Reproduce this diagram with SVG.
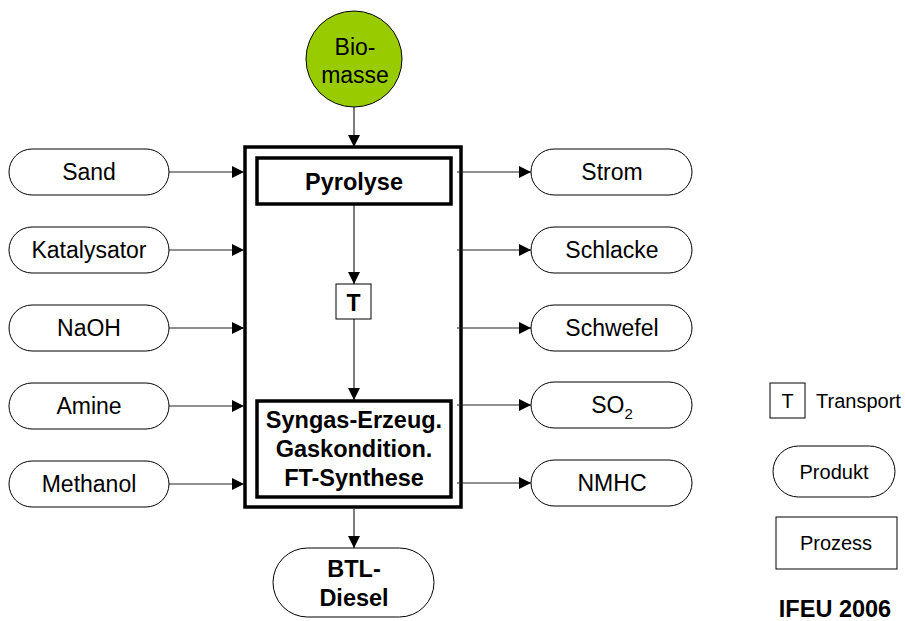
<svg xmlns="http://www.w3.org/2000/svg" width="905" height="621" viewBox="0 0 905 621">
<defs>
<marker id="arr" markerUnits="userSpaceOnUse" markerWidth="12" markerHeight="12" refX="12" refY="6" orient="auto">
<path d="M0,0 L12,6 L0,12 z" fill="#000"/>
</marker>
</defs>
<style>
text{font-family:"Liberation Sans",Arial,sans-serif;fill:#000;text-anchor:middle}
.r{font-size:23px}
.b{font-size:23.5px;font-weight:bold}
.l{font-size:20px}
.pill{fill:#fff;stroke:#000;stroke-width:1}
.proc{fill:#fff;stroke:#000;stroke-width:3.5}
.thin{fill:#fff;stroke:#000;stroke-width:1}
.con line{stroke:#222;stroke-width:1.2;marker-end:url(#arr)}
</style>
<rect width="905" height="621" fill="#fff"/>

<g id="outer"><rect class="proc" x="245" y="147" width="216" height="360"/></g>

<g class="con" id="connectors">
<line x1="354" y1="107" x2="354" y2="147"/>
<line x1="354" y1="204" x2="354" y2="284"/>
<line x1="354" y1="319" x2="354" y2="400"/>
<line x1="354" y1="509" x2="354" y2="548"/>
<line x1="169" y1="172" x2="244" y2="172"/>
<line x1="169" y1="250" x2="244" y2="250"/>
<line x1="169" y1="328" x2="244" y2="328"/>
<line x1="169" y1="406" x2="244" y2="406"/>
<line x1="169" y1="484" x2="244" y2="484"/>
<line x1="457" y1="172" x2="531" y2="172"/>
<line x1="457" y1="250" x2="531" y2="250"/>
<line x1="457" y1="328" x2="531" y2="328"/>
<line x1="457" y1="405" x2="531" y2="405"/>
<line x1="457" y1="483" x2="531" y2="483"/>
</g>

<g id="biomasse">
<circle cx="354" cy="59" r="48" fill="#99cc00" stroke="#000" stroke-width="1"/>
<text class="r" x="355" y="55">Bio-</text>
<text class="r" x="355" y="83">masse</text>
</g>

<g id="pyrolyse">
<rect class="proc" x="257" y="158" width="194" height="46"/>
<text class="b" x="354" y="190">Pyrolyse</text>
</g>

<g id="transport">
<rect class="thin" x="336" y="284" width="35" height="35"/>
<text x="353.5" y="311" style="font-size:23px;font-weight:bold">T</text>
</g>

<g id="syngas">
<rect class="proc" x="257" y="401" width="194" height="96"/>
<text class="b" x="354" y="428">Syngas-Erzeug.</text>
<text class="b" x="354" y="457">Gaskondition.</text>
<text class="b" x="354" y="486">FT-Synthese</text>
</g>

<g id="btl">
<rect class="pill" x="273" y="548" width="161" height="69" rx="34.5"/>
<text class="b" x="354" y="577">BTL-</text>
<text class="b" x="354" y="606">Diesel</text>
</g>

<g id="sand"><rect class="pill" x="9" y="149" width="160" height="46" rx="23"/><text class="r" x="89" y="180">Sand</text></g>
<g id="katalysator"><rect class="pill" x="9" y="227" width="160" height="46" rx="23"/><text class="r" x="89" y="258">Katalysator</text></g>
<g id="naoh"><rect class="pill" x="9" y="305" width="160" height="46" rx="23"/><text class="r" x="89" y="336">NaOH</text></g>
<g id="amine"><rect class="pill" x="9" y="383" width="160" height="46" rx="23"/><text class="r" x="89" y="414">Amine</text></g>
<g id="methanol"><rect class="pill" x="9" y="461" width="160" height="46" rx="23"/><text class="r" x="89" y="492">Methanol</text></g>

<g id="strom"><rect class="pill" x="531" y="149" width="161" height="46" rx="23"/><text class="r" x="612" y="180">Strom</text></g>
<g id="schlacke"><rect class="pill" x="531" y="227" width="161" height="46" rx="23"/><text class="r" x="612" y="258">Schlacke</text></g>
<g id="schwefel"><rect class="pill" x="531" y="305" width="161" height="46" rx="23"/><text class="r" x="612" y="336">Schwefel</text></g>
<g id="so2"><rect class="pill" x="531" y="382" width="161" height="46" rx="23"/><text class="r" x="612" y="413">SO<tspan dy="6" style="font-size:15px">2</tspan></text></g>
<g id="nmhc"><rect class="pill" x="531" y="460" width="161" height="46" rx="23"/><text class="r" x="612" y="491">NMHC</text></g>

<g id="legend-transport">
<rect class="thin" x="770" y="383" width="35" height="35"/>
<text class="l" x="787.5" y="408">T</text>
<text class="l" x="816" y="408" style="text-anchor:start">Transport</text>
</g>
<g id="legend-produkt">
<rect class="pill" x="773" y="446" width="122" height="51" rx="25.5"/>
<text class="l" x="834" y="479">Produkt</text>
</g>
<g id="legend-prozess">
<rect class="thin" x="776" y="517" width="121" height="52"/>
<text class="l" x="836" y="550">Prozess</text>
</g>
<g id="credit">
<text x="835" y="617" style="font-size:23.5px;font-weight:bold">IFEU 2006</text>
</g>
</svg>
